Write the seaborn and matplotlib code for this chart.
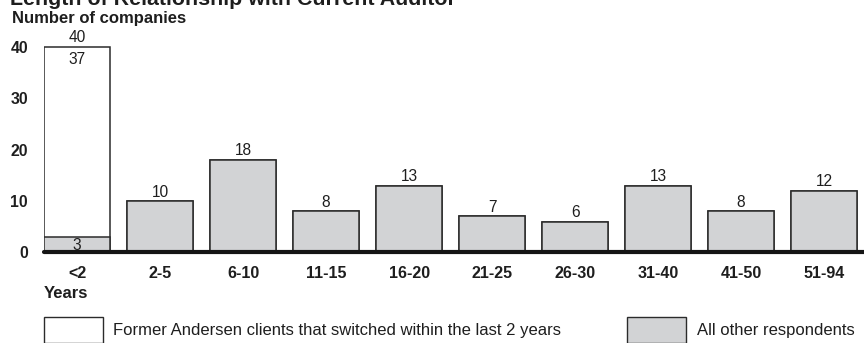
import matplotlib
matplotlib.use("Agg")
import matplotlib.pyplot as plt
from matplotlib.patches import Rectangle
import seaborn as sns

# Years with current auditor
categories = ["<2", "2-5", "6-10", "11-15", "16-20", "21-25", "26-30", "31-40", "41-50", "51-94"]
# Former Andersen clients that switched within the last 2 years
andersen = [37, 0, 0, 0, 0, 0, 0, 0, 0, 0]
# All other respondents
others = [3, 10, 18, 8, 13, 7, 6, 13, 8, 12]
totals = [a + o for a, o in zip(andersen, others)]
yticks = [0, 10, 20, 30, 40]

title = "Length of Relationship with Current Auditor"
ylabel = "Number of companies"
xlabel = "Years"
legend_labels = ["Former Andersen clients that switched within the last 2 years",
                 "All other respondents"]

sns.set_theme(style="white")
plt.rcParams["font.family"] = ["Liberation Sans", "DejaVu Sans"]

GREY = "#d2d3d5"
EDGE = "#2b2b2b"
TEXT = "#1e1e1e"

W, H = 864, 343
fig = plt.figure(figsize=(W / 100, H / 100), dpi=100)
fig.patch.set_facecolor("white")

y0_px = 252.4
px_per_unit = 5.143
ymax = 42
ax = fig.add_axes([44 / W, (H - y0_px) / H, (W - 44) / W, ymax * px_per_unit / H])

# stacked bars: total outline first (white), then the grey base segment on top
sns.barplot(x=categories, y=totals, order=categories, color="white", saturation=1,
            edgecolor=EDGE, linewidth=1.1, width=0.8, ax=ax)
sns.barplot(x=categories, y=others, order=categories, color=GREY, saturation=1,
            edgecolor=EDGE, linewidth=1.1, width=0.8, ax=ax)

ax.set_xlim(-0.4, 9.48)
ax.set_ylim(0, ymax)
for s in ax.spines.values():
    s.set_visible(False)
ax.axhline(0, color="#151515", lw=3.0, clip_on=False, zorder=5)

ax.set_yticks(yticks)
ax.set_yticklabels([str(v) for v in yticks], fontweight="bold", fontsize=11.4, color=TEXT)
ax.tick_params(axis="y", length=0, pad=11.5)
ax.tick_params(axis="x", length=0, pad=9.5)
for lab in ax.get_xticklabels():
    lab.set_fontweight("bold")
    lab.set_fontsize(11.6)
    lab.set_color(TEXT)
ax.set_xlabel("")
ax.set_ylabel("")
ax.grid(False)

# value labels
vfs = 11.2
for i, (a, o, t) in enumerate(zip(andersen, others, totals)):
    ax.annotate(str(t), (i, t), xytext=(0, 1.0), textcoords="offset points",
                ha="center", va="bottom", fontsize=vfs, color=TEXT, clip_on=False)
    if a > 0:
        ax.annotate(str(a), (i, t), xytext=(0, -3.5), textcoords="offset points",
                    ha="center", va="top", fontsize=vfs, color=TEXT)
        ax.annotate(str(o), (i, o / 2), xytext=(0, -0.5), textcoords="offset points",
                    ha="center", va="center", fontsize=vfs, color=TEXT)


def fy(px):
    return 1 - px / H


fig.text(10 / W, fy(5), title, fontsize=15.4, fontweight="bold", color=TEXT,
         ha="left", va="baseline")
fig.text(12 / W, fy(18), ylabel, fontsize=12, fontweight="bold", color=TEXT,
         ha="left", va="center")
fig.text(44 / W, fy(293), xlabel, fontsize=12, fontweight="bold", color=TEXT,
         ha="left", va="center")

# legend
for (bx, tx), lab, fc in zip([(44, 113), (627, 697)], legend_labels, ["white", GREY]):
    fig.patches.append(Rectangle((bx / W, fy(343)), 59 / W, 26 / H,
                                 transform=fig.transFigure, facecolor=fc,
                                 edgecolor=EDGE, linewidth=1.0))
    fig.text(tx / W, fy(330), lab, fontsize=12, color=TEXT, ha="left", va="center")

fig.savefig("out.png", dpi=100)
